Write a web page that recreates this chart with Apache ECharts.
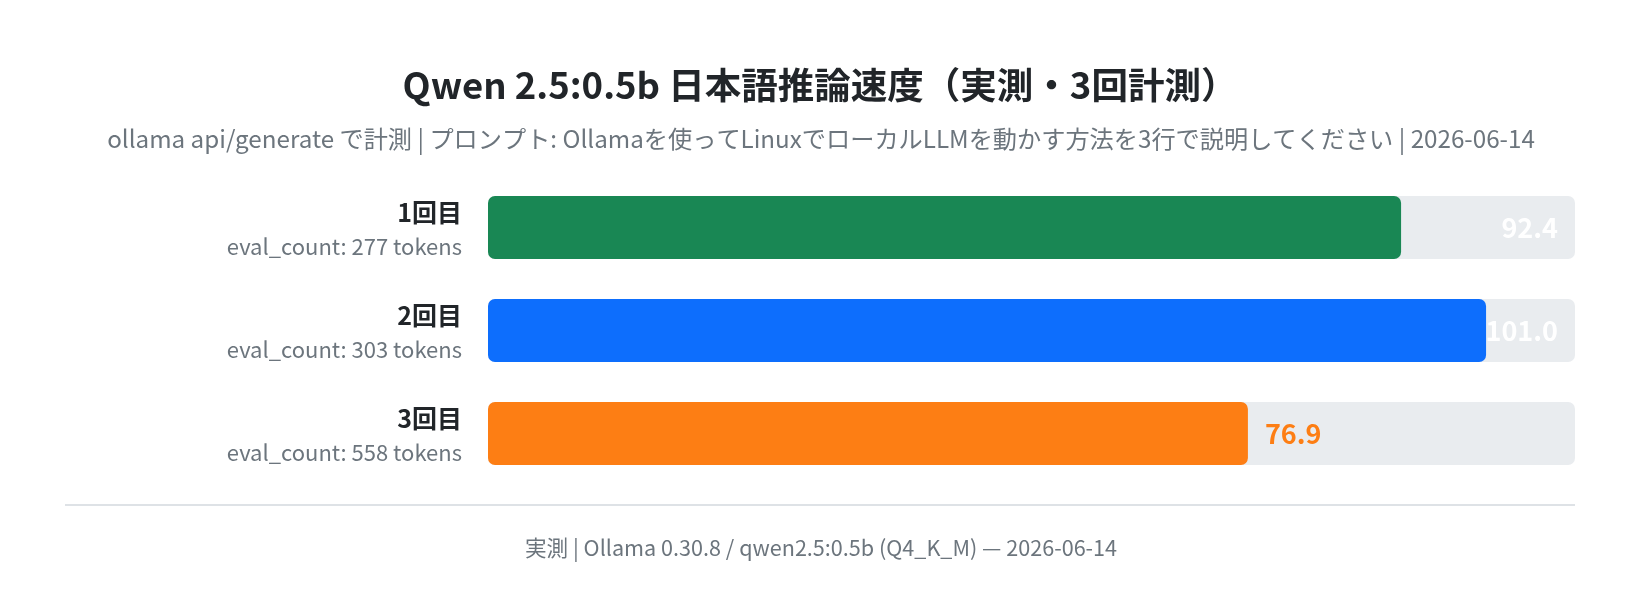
<!DOCTYPE html>
<html lang="ja">
<head>
  <meta charset="utf-8" />
  <title>Qwen 2.5:0.5b 日本語推論速度</title>
  <script src="https://cdn.jsdelivr.net/npm/echarts@6/dist/echarts.min.js"></script>
  <style>
    html, body { margin: 0; padding: 0; background: #fff; }
    #main { width: 1640px; height: 598px; }
  </style>
</head>
<body>
  <div id="main"></div>
  <script>
    // data
    const runs = ["1回目", "2回目", "3回目"];
    const evalCounts = [277, 303, 558];
    const speeds = [92.4, 101.0, 76.9];
    const barColors = ["#198754", "#0d6efd", "#fd7e14"];
    const scaleMax = 110;

    const font = '"Noto Sans CJK JP", "Noto Sans", sans-serif';

    const option = {
      backgroundColor: "#ffffff",
      animation: false,
      textStyle: { fontFamily: font },
      title: [
        {
          text: "Qwen 2.5:0.5b 日本語推論速度（実測・3回計測）",
          left: 815,
          top: 62,
          textAlign: "center",
          textStyle: { fontFamily: font, fontSize: 36.5, fontWeight: "bold", color: "#212529" },
        },
        {
          text: "ollama api/generate で計測 | プロンプト: Ollamaを使ってLinuxでローカルLLMを動かす方法を3行で説明してください | 2026-06-14",
          left: 816,
          top: 122,
          textAlign: "center",
          textStyle: { fontFamily: font, fontSize: 24.2, fontWeight: "normal", color: "#6c757d" },
        },
        {
          text: "実測 | Ollama 0.30.8 / qwen2.5:0.5b (Q4_K_M) — 2026-06-14",
          left: 816,
          top: 532,
          textAlign: "center",
          textStyle: { fontFamily: font, fontSize: 21.6, fontWeight: "normal", color: "#6c757d" },
        },
      ],
      graphic: [
        {
          type: "line",
          shape: { x1: 65, y1: 505, x2: 1575, y2: 505 },
          style: { stroke: "#dee2e6", lineWidth: 2 },
        },
      ],
      grid: { left: 488, right: 65, top: 176, height: 309 },
      xAxis: {
        type: "value",
        min: 0,
        max: scaleMax,
        show: false,
      },
      yAxis: {
        type: "category",
        inverse: true,
        data: runs,
        axisLine: { show: false },
        axisTick: { show: false },
        axisLabel: {
          margin: 26,
          align: "right",
          formatter: function (value, idx) {
            return "{a|" + value + "}\n{b|eval_count: " + evalCounts[idx] + " tokens}";
          },
          rich: {
            a: { fontFamily: font, fontSize: 25, fontWeight: "bold", color: "#212529", lineHeight: 39, align: "right" },
            b: { fontFamily: font, fontSize: 22, color: "#6c757d", lineHeight: 31, align: "right" },
          },
        },
      },
      series: [
        {
          name: "track",
          type: "bar",
          z: 1,
          silent: true,
          barWidth: 63,
          barGap: "-100%",
          itemStyle: { color: "#e9ecef", borderRadius: 7 },
          data: runs.map(() => scaleMax),
        },
        {
          name: "tokens/s",
          type: "bar",
          z: 2,
          barWidth: 63,
          barGap: "-100%",
          data: speeds.map((v, i) => ({
            value: v,
            itemStyle: { color: barColors[i], borderRadius: 7 },
            label: {
              show: i === 2,
              position: "right",
              distance: 17,
              formatter: v.toFixed(1),
              color: barColors[i],
              fontFamily: font,
              fontSize: 27,
              fontWeight: "bold",
            },
          })),
        },
        {
          name: "labels",
          type: "bar",
          z: 3,
          silent: true,
          barWidth: 63,
          barGap: "-100%",
          itemStyle: { color: "transparent" },
          data: speeds.map((v, i) => ({
            value: scaleMax,
            label: {
              show: i !== 2,
              position: "insideRight",
              distance: 17,
              formatter: v.toFixed(1),
              color: "#ffffff",
              fontFamily: font,
              fontSize: 27,
              fontWeight: "bold",
            },
          })),
        },
      ],
    };

    const chart = echarts.init(document.getElementById("main"));
    chart.setOption(option);

    window.onresize = function () {
      chart.resize();
    };
  </script>
</body>
</html>
